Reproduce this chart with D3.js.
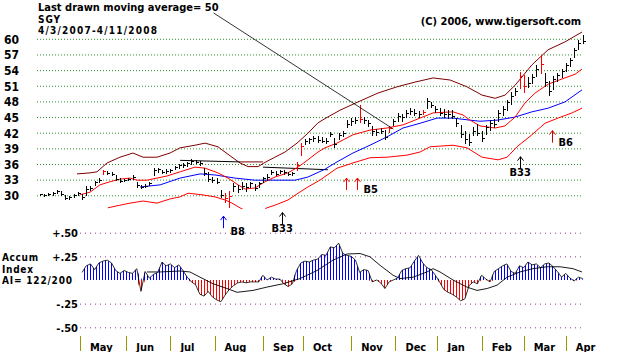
<!DOCTYPE html>
<html>
<head>
<meta charset="utf-8">
<script src="https://cdn.jsdelivr.net/npm/d3@7"></script>
<style>
  body { margin: 0; background: #fff; }
  svg { display: block; }
  text { font-family: 'DejaVu Sans Condensed', 'Liberation Sans Narrow', sans-serif; font-weight: bold; fill: #000; font-size: 11px; }
</style>
</head>
<body>
<svg id="chart" width="618" height="352"></svg>
<script>
// SGY daily chart, 4/3/2007 - 4/11/2008

const months = ['May', 'Jun', 'Jul', 'Aug', 'Sep', 'Oct', 'Nov', 'Dec', 'Jan', 'Feb', 'Mar', 'Apr'];
const monthStartDay = [19, 41, 62, 83, 106, 125, 148, 169, 189, 210, 230, 250]; // trading-day index
const lastDay = 258;
const priceTicks = [60, 57, 54, 51, 48, 45, 42, 39, 36, 33, 30];
const aiTicks = [0.5, 0.25, -0.25, -0.5];

// one bar every 2 trading days
const barHigh = [30.3, 30.3, 30.4, 30.6, 31.0, 30.8, 30.0, 29.8, 30.3, 30.6,
  30.2, 31.8, 31.7, 32.8, 33.4, 34.9, 34.6, 34.4, 33.9, 33.3,
  33.2, 33.4, 33.8, 32.5, 32.0, 32.1, 32.6, 35.2, 35.3, 34.9,
  35.0, 35.1, 35.7, 36.0, 36.1, 36.3, 36.9, 36.7, 36.6, 35.3,
  34.4, 33.5, 33.4, 31.0, 30.4, 30.8, 32.3, 32.0, 32.5, 32.3,
  32.6, 32.2, 32.6, 33.6, 34.0, 34.8, 34.7, 34.9, 34.8, 34.5,
  34.4, 36.3, 40.0, 40.8, 41.0, 41.3, 41.4, 41.2, 41.0, 42.2,
  41.0, 41.9, 42.4, 44.4, 44.8, 45.0, 47.3, 45.0, 44.5, 43.2,
  42.8, 42.9, 42.5, 43.2, 44.6, 45.7, 45.5, 46.3, 46.8, 46.6,
  46.2, 46.3, 48.6, 47.8, 47.2, 46.7, 46.5, 46.3, 46.4, 44.8,
  43.5, 42.4, 41.8, 43.0, 43.6, 42.3, 43.5, 44.4, 44.6, 46.3,
  47.2, 48.3, 49.8, 50.5, 53.6, 53.0, 52.7, 53.2, 55.0, 56.8,
  53.5, 52.0, 52.8, 53.4, 54.2, 55.4, 56.4, 58.2, 59.8, 60.8];
const barLow = [30.0, 29.9, 30.0, 30.1, 30.4, 30.0, 29.3, 29.3, 29.7, 30.1,
  29.3, 30.0, 31.0, 32.0, 32.6, 34.0, 34.0, 33.8, 32.9, 32.6,
  32.7, 32.9, 33.1, 31.6, 31.4, 31.5, 32.0, 33.8, 34.4, 34.2,
  34.3, 34.5, 35.0, 35.3, 35.5, 35.6, 36.0, 36.1, 35.9, 33.9,
  32.8, 32.6, 32.3, 29.6, 28.7, 27.8, 30.9, 30.6, 31.2, 30.8,
  31.6, 31.0, 31.6, 32.6, 33.0, 34.0, 33.8, 34.2, 34.0, 33.8,
  33.8, 34.8, 37.8, 39.8, 40.0, 40.4, 40.2, 40.2, 40.0, 41.3,
  39.2, 40.8, 41.3, 43.0, 43.5, 43.9, 44.0, 43.8, 43.2, 41.5,
  41.6, 41.9, 40.8, 42.2, 43.4, 44.2, 44.3, 45.0, 45.5, 45.3,
  45.0, 45.5, 46.8, 46.9, 46.0, 45.3, 45.0, 44.9, 44.8, 43.3,
  41.2, 40.1, 39.6, 41.5, 41.6, 40.4, 41.8, 42.6, 43.0, 44.2,
  45.3, 46.4, 47.5, 49.2, 50.5, 49.8, 50.8, 51.5, 52.8, 53.5,
  51.0, 49.3, 50.3, 51.9, 52.6, 53.8, 54.8, 56.6, 58.0, 59.2];
const barClose = [30.2, 30.1, 30.2, 30.5, 30.8, 30.2, 29.5, 29.6, 30.1, 30.4,
  29.6, 31.3, 31.4, 32.5, 33.0, 34.6, 34.3, 34.1, 33.1, 32.8,
  33.0, 33.2, 33.6, 31.9, 31.6, 31.8, 32.4, 34.9, 35.0, 34.5,
  34.7, 34.9, 35.5, 35.8, 35.9, 36.1, 36.5, 36.4, 36.2, 34.2,
  33.1, 33.0, 32.6, 30.0, 29.4, 29.8, 31.8, 31.2, 31.7, 31.5,
  32.3, 31.4, 32.3, 33.3, 33.5, 34.4, 34.1, 34.6, 34.5, 34.0,
  34.2, 35.9, 39.5, 40.4, 40.7, 40.9, 40.6, 40.5, 40.4, 41.8,
  39.8, 41.5, 41.9, 43.7, 44.2, 44.5, 44.6, 44.4, 43.8, 42.4,
  42.2, 42.4, 41.2, 42.9, 44.2, 45.2, 45.0, 45.8, 46.2, 45.7,
  45.6, 45.9, 48.0, 47.3, 46.5, 45.8, 45.6, 45.5, 45.2, 43.8,
  41.8, 40.7, 40.2, 42.4, 42.0, 41.0, 43.0, 43.8, 43.6, 45.8,
  46.6, 47.8, 49.0, 49.9, 52.8, 51.0, 51.6, 52.7, 54.2, 55.2,
  51.8, 50.0, 52.3, 53.0, 53.8, 55.0, 56.0, 57.8, 59.2, 59.6];
const redBars = [15, 44, 45, 61, 62, 76, 83, 91, 114, 115, 119];

// bands and averages: [trading day, price]
const upperBand = [[17.6, 34.1], [23.8, 34.3], [27.1, 34.5], [31.9, 36.2], [38, 37.3], [44.2, 38.1],
  [49, 37.3], [55.6, 37.3], [61.8, 38.1], [66.6, 39.1], [73.7, 39.6], [78.5, 40.0], [84.6, 39.3],
  [91.3, 37.3], [95.1, 36.2], [98.9, 35.5], [103.7, 35.5], [106.5, 36.2], [111.7, 37.3],
  [116.5, 38.3], [122.2, 40.0], [127.4, 41.9], [132.2, 43.9], [135.5, 44.7], [142.6, 46.3],
  [151.2, 47.9], [160.7, 49.6], [169.8, 50.8], [178.3, 51.7], [186.9, 52.5], [195, 52.1],
  [203, 50.8], [210.2, 49.2], [216.4, 48.6], [221.1, 49.2], [225.9, 51.1], [233.9, 55.0],
  [241.6, 57.9], [249.6, 59.4], [257.7, 61.3]];
const upperPill = [[95.1, 36.4], [106, 36.4]];
const midAverage = [[19, 30.1], [23.8, 30.6], [28.5, 32.0], [33.3, 32.6], [38, 33.1], [42.8, 33.3],
  [46.1, 32.9], [50.9, 32.9], [55.6, 33.3], [60.4, 33.7], [66.6, 34.5], [73.7, 35.4], [78.5, 35.2],
  [84.6, 34.3], [89.4, 33.3], [94.2, 32.0], [97.5, 31.2], [102.2, 31.4], [107, 32.6], [111.7, 33.5],
  [117.9, 34.3], [122.7, 35.4], [127.4, 36.8], [132.2, 38.3], [135.5, 39.1], [141.2, 40.0],
  [148.8, 41.6], [156.9, 42.5], [165, 42.9], [172.6, 43.5], [180.7, 44.8], [186.9, 45.8],
  [196.4, 46.0], [201.1, 45.4], [204.5, 44.4], [209.2, 43.3], [216.4, 42.9], [221.1, 43.3],
  [225.9, 45.0], [230.6, 47.7], [235.4, 49.6], [241.6, 51.3], [248.2, 52.3], [254.4, 53.2],
  [257.7, 54.2]];
const ma50 = [[47.6, 31.6], [57.1, 32.0], [66.6, 33.3], [76.1, 34.1], [83.2, 33.9], [92.7, 33.3],
  [102.2, 32.9], [111.7, 32.9], [121.3, 32.9], [127.4, 33.5], [135.5, 35.0], [141.2, 36.4],
  [148.8, 38.1], [156.9, 39.6], [165, 41.2], [172.6, 42.9], [180.7, 43.8], [188.8, 44.8],
  [196.4, 44.8], [204.5, 44.4], [209.2, 44.2], [217.3, 44.4], [225.9, 45.0], [233.9, 46.0],
  [241.6, 46.7], [249.6, 47.9], [257.7, 50.2]];
const lowerBand = [[32.3, 27.6], [38, 28.1], [42.8, 28.5], [49, 28.9], [55.6, 28.5], [61.8, 29.3],
  [66.6, 29.7], [70.4, 30.4], [77, 30.1], [83.2, 29.7], [88, 29.1], [91.3, 28.5], [95.1, 27.6],
  [99.8, 26.6], [103.7, 26.4], [107.9, 27.6], [111.7, 28.1], [117.9, 29.1], [122.7, 30.4],
  [127.4, 31.6], [133.1, 32.9], [141.2, 35.2], [148.8, 36.2], [156.9, 37.2], [165, 37.3],
  [174.5, 37.7], [180.7, 38.3], [185.5, 39.3], [196.4, 39.6], [203, 39.1], [210.2, 37.3],
  [217.8, 36.8], [222.1, 37.3], [226.8, 39.3], [233.9, 41.6], [240.1, 43.8], [246.3, 44.8],
  [253, 45.8], [257.7, 46.7]];
const flatLine = [[[66.6, 36.7], [95.1, 36.4]], [[106, 35.4], [136.9, 34.9]]];

// signals: trading day, price at arrow tip, label, colour
const signals = [
  {day: 87.0, tip: 26.0, label: 'B8', color: '#0000ff', text: 'below'},
  {day: 115.0, tip: 26.7, label: 'B33', color: '#000000', text: 'below'},
  {day: 145.5, tip: 33.3, label: '', color: '#ff0000', text: 'none'},
  {day: 150.5, tip: 33.3, label: 'B5', color: '#ff0000', text: 'right'},
  {day: 228.0, tip: 37.4, label: 'B33', color: '#000000', text: 'below'},
  {day: 243.5, tip: 42.4, label: 'B6', color: '#cc0000', text: 'right'}
];

// Accumulation index, every 2 trading days starting at day 20
const aiStartDay = 20;
const aiValues = [0.08, 0.15, 0.17, 0.11, 0.18, 0.20, 0.21, 0.18, 0.10, 0.07,
  0.10, 0.08, 0.07, 0.12, -0.12, 0.09, 0.02, 0.06, 0.08, 0.19,
  0.15, 0.17, 0.13, 0.16, 0.10, 0.03, -0.02, -0.05, -0.15, -0.17,
  -0.12, -0.18, -0.21, -0.23, -0.16, -0.10, -0.06, -0.03, -0.02, -0.03,
  -0.02, -0.02, -0.02, 0.05, 0.00, 0.03, 0.01, 0.01, -0.04, -0.07,
  -0.04, 0.10, 0.18, 0.20, 0.19, 0.21, 0.22, 0.27, 0.26, 0.35,
  0.34, 0.39, 0.28, 0.26, 0.25, 0.21, 0.08, 0.11, 0.10, -0.02,
  0.00, -0.03, -0.09, -0.02, 0.00, 0.02, 0.10, 0.12, 0.13, 0.20,
  0.26, 0.18, 0.13, 0.11, 0.05, -0.02, -0.10, -0.13, -0.15, -0.18,
  -0.22, -0.20, -0.06, -0.02, -0.04, 0.05, 0.01, -0.02, 0.09, 0.12,
  0.15, 0.17, 0.09, 0.07, 0.15, 0.13, 0.19, 0.16, 0.17, 0.13,
  0.17, 0.18, 0.14, 0.09, 0.03, 0.07, 0.02, -0.01, 0.03, 0.015];
const aiAverage = [[50.9, 0.085], [57.1, 0.085], [66.6, 0.095], [71.3, 0.085], [76.1, 0.03],
  [82.3, -0.04], [88.9, -0.09], [93.7, -0.13], [101.3, -0.11], [107.9, -0.075], [115.5, -0.04],
  [123.6, 0.015], [131.7, 0.10], [139.3, 0.21], [146, 0.275], [152.2, 0.28], [156.9, 0.245],
  [161.7, 0.155], [167.9, 0.05], [171.2, 0.015], [177.4, 0.03], [184, 0.085], [186.9, 0.12],
  [190.2, 0.085], [196.4, 0.0], [203, -0.075], [207.8, -0.11], [212.6, -0.09], [217.3, -0.055],
  [222.1, 0.03], [228.2, 0.085], [234.4, 0.12], [241.1, 0.14], [247.3, 0.14], [253.4, 0.12],
  [257.7, 0.085]];

// ---------------------------------------------------------------

const svg = d3.select('#chart');

const x = d3.scaleLinear().domain([0, lastDay]).range([40, 582.6]);
const y = d3.scaleLinear().domain([30, 60]).range([195.3, 38.8]);
const yAI = d3.scaleLinear().domain([-0.5, 0.5]).range([327.3, 232.7]);

const px = v => Math.round(v) + 0.5;

// hatch patterns for the accumulation histogram
const defs = svg.append('defs');
[['hatchBlue', '#0000ff'], ['hatchRed', '#ff0000']].forEach(([id, c]) => {
  defs.append('pattern')
    .attr('id', id)
    .attr('patternUnits', 'userSpaceOnUse')
    .attr('width', 3).attr('height', 6)
    .append('line')
    .attr('x1', 0.5).attr('x2', 0.5).attr('y1', 0).attr('y2', 6)
    .attr('stroke', c).attr('stroke-width', 1);
});
defs.append('clipPath').attr('id', 'priceClip')
  .append('rect').attr('x', 30).attr('y', 0).attr('width', 570).attr('height', 209);

// price grid + labels
const yAxis = d3.axisLeft(y)
  .tickValues(priceTicks)
  .tickSize(-545)
  .tickPadding(18)
  .tickFormat(d3.format('d'));
svg.append('g')
  .attr('transform', 'translate(37,0)')
  .call(yAxis)
  .call(g => g.select('.domain').remove())
  .call(g => g.selectAll('line')
    .attr('stroke', '#2f8f2f')
    .attr('stroke-dasharray', '1,2'))
  .call(g => g.selectAll('text')
    .attr('font-family', null)
    .attr('font-size', null)
    .style('font-size', '12px')
    .attr('dy', '0.36em'));

// accumulation grid + labels
const aiFormat = d => (d > 0 ? '+' : '-') + d3.format('.2f')(Math.abs(d)).replace(/^0/, '');
svg.append('g')
  .attr('transform', 'translate(80,0)')
  .call(d3.axisLeft(yAI).tickValues(aiTicks).tickSize(-503).tickPadding(2).tickFormat(aiFormat))
  .call(g => g.select('.domain').remove())
  .call(g => g.selectAll('line')
    .attr('stroke', '#993399')
    .attr('stroke-dasharray', '1,4'))
  .call(g => g.selectAll('text')
    .attr('font-family', null)
    .attr('font-size', null)
    .attr('dy', '0.36em'));

// titles (stacked lines set a bit smaller so they don't collide)
const title = svg.append('text')
  .attr('x', 38).attr('y', 10.5)
  .text('Last drawn moving average= 50');
svg.append('text').attr('x', 38).attr('y', 22.6)
  .style('font-size', '10px').attr('textLength', 22).text('SGY');
svg.append('text').attr('x', 38).attr('y', 34.4)
  .style('font-size', '10px').attr('textLength', 119).text('4/3/2007-4/11/2008');
svg.append('text')
  .attr('x', 581).attr('y', 25)
  .attr('text-anchor', 'end')
  .text('(C) 2006, www.tigersoft.com');

// price chart
const price = svg.append('g').attr('clip-path', 'url(#priceClip)');
const line = d3.line().x(d => x(d[0])).y(d => y(d[1]));

price.append('path').datum(upperBand)
  .attr('fill', 'none').attr('stroke', '#800000').attr('d', line);
price.append('path').datum(upperPill)
  .attr('fill', 'none').attr('stroke', '#800000').attr('d', line);
flatLine.forEach(seg => price.append('path').datum(seg)
  .attr('fill', 'none').attr('stroke', '#000').attr('d', line));
price.append('path').datum(lowerBand)
  .attr('fill', 'none').attr('stroke', '#ff0000').attr('d', line);
price.append('path').datum(ma50)
  .attr('fill', 'none').attr('stroke', '#0000ff').attr('d', line);
price.append('path').datum(midAverage)
  .attr('fill', 'none').attr('stroke', '#ff0000').attr('d', line);

const bars = barClose.map((c, i) => ({day: i * 2, hi: barHigh[i], lo: barLow[i], close: c, red: redBars.includes(i)}));
const barG = price.selectAll('.bar').data(bars).join('g').attr('class', 'bar')
  .attr('stroke', d => d.red ? '#ff0000' : '#000')
  .attr('shape-rendering', 'crispEdges');
barG.append('line')
  .attr('x1', d => px(x(d.day))).attr('x2', d => px(x(d.day)))
  .attr('y1', d => y(d.hi)).attr('y2', d => y(d.lo) + 1);
barG.append('line')
  .attr('x1', d => px(x(d.day))).attr('x2', d => px(x(d.day)) + 2)
  .attr('y1', d => px(y(d.close))).attr('y2', d => px(y(d.close)));

// pointer from the title to the 50-day average
const tb = title.node().getBBox();
svg.append('line')
  .attr('x1', tb.x + tb.width - 5).attr('y1', 13)
  .attr('x2', x(168)).attr('y2', y(42.7))
  .attr('stroke', '#000').attr('stroke-width', 0.8);

// buy signals
signals.forEach(s => {
  const sx = px(x(s.day));
  const ty = y(s.tip);
  const g = svg.append('g').attr('stroke', s.color).attr('fill', 'none');
  g.append('line').attr('x1', sx).attr('x2', sx).attr('y1', ty).attr('y2', ty + 12);
  g.append('path').attr('d', `M${sx - 3},${ty + 4}L${sx},${ty}L${sx + 3},${ty + 4}`);
  if (s.text === 'below') {
    svg.append('text')
      .attr('x', sx + (s.label === 'B8' ? 7 : -11)).attr('y', ty + 19)
      .text(s.label);
  } else if (s.text === 'right') {
    svg.append('text')
      .attr('x', sx + 6).attr('y', ty + 15)
      .text(s.label);
  }
});

// accumulation index
const ai = aiValues.map((v, i) => ({day: aiStartDay + i * 2, v}));
svg.append('path').datum(ai)
  .attr('fill', 'url(#hatchBlue)')
  .attr('d', d3.area().x(d => x(d.day)).y0(yAI(0)).y1(d => yAI(Math.max(0, d.v))));
svg.append('path').datum(ai)
  .attr('fill', 'url(#hatchRed)')
  .attr('d', d3.area().x(d => x(d.day)).y0(yAI(0)).y1(d => yAI(Math.min(0, d.v))));
svg.append('path').datum(ai)
  .attr('fill', 'none').attr('stroke', '#000').attr('stroke-width', 0.8)
  .attr('d', d3.line().x(d => x(d.day)).y(d => yAI(d.v)));
svg.append('path').datum(aiAverage)
  .attr('fill', 'none').attr('stroke', '#000').attr('stroke-width', 0.9)
  .attr('d', d3.line().x(d => x(d[0])).y(d => yAI(d[1])));

svg.append('text').attr('x', 2).attr('y', 261)
  .style('font-size', '10px').attr('textLength', 36).text('Accum');
svg.append('text').attr('x', 2).attr('y', 272.7)
  .style('font-size', '10px').attr('textLength', 31).text('Index');
svg.append('text').attr('x', 2).attr('y', 284.4)
  .style('font-size', '10px').attr('textLength', 70).text('AI= 122/200');

// month axis
const monthG = svg.selectAll('.month').data(months).join('g').attr('class', 'month');
monthG.append('line')
  .attr('x1', (d, i) => px(x(monthStartDay[i]))).attr('x2', (d, i) => px(x(monthStartDay[i])))
  .attr('y1', 336).attr('y2', 351)
  .attr('stroke', '#999900').attr('shape-rendering', 'crispEdges');
monthG.append('text')
  .attr('x', (d, i) => x(monthStartDay[i]) + 10).attr('y', 350.5)
  .text(d => d);
</script>
</body>
</html>
